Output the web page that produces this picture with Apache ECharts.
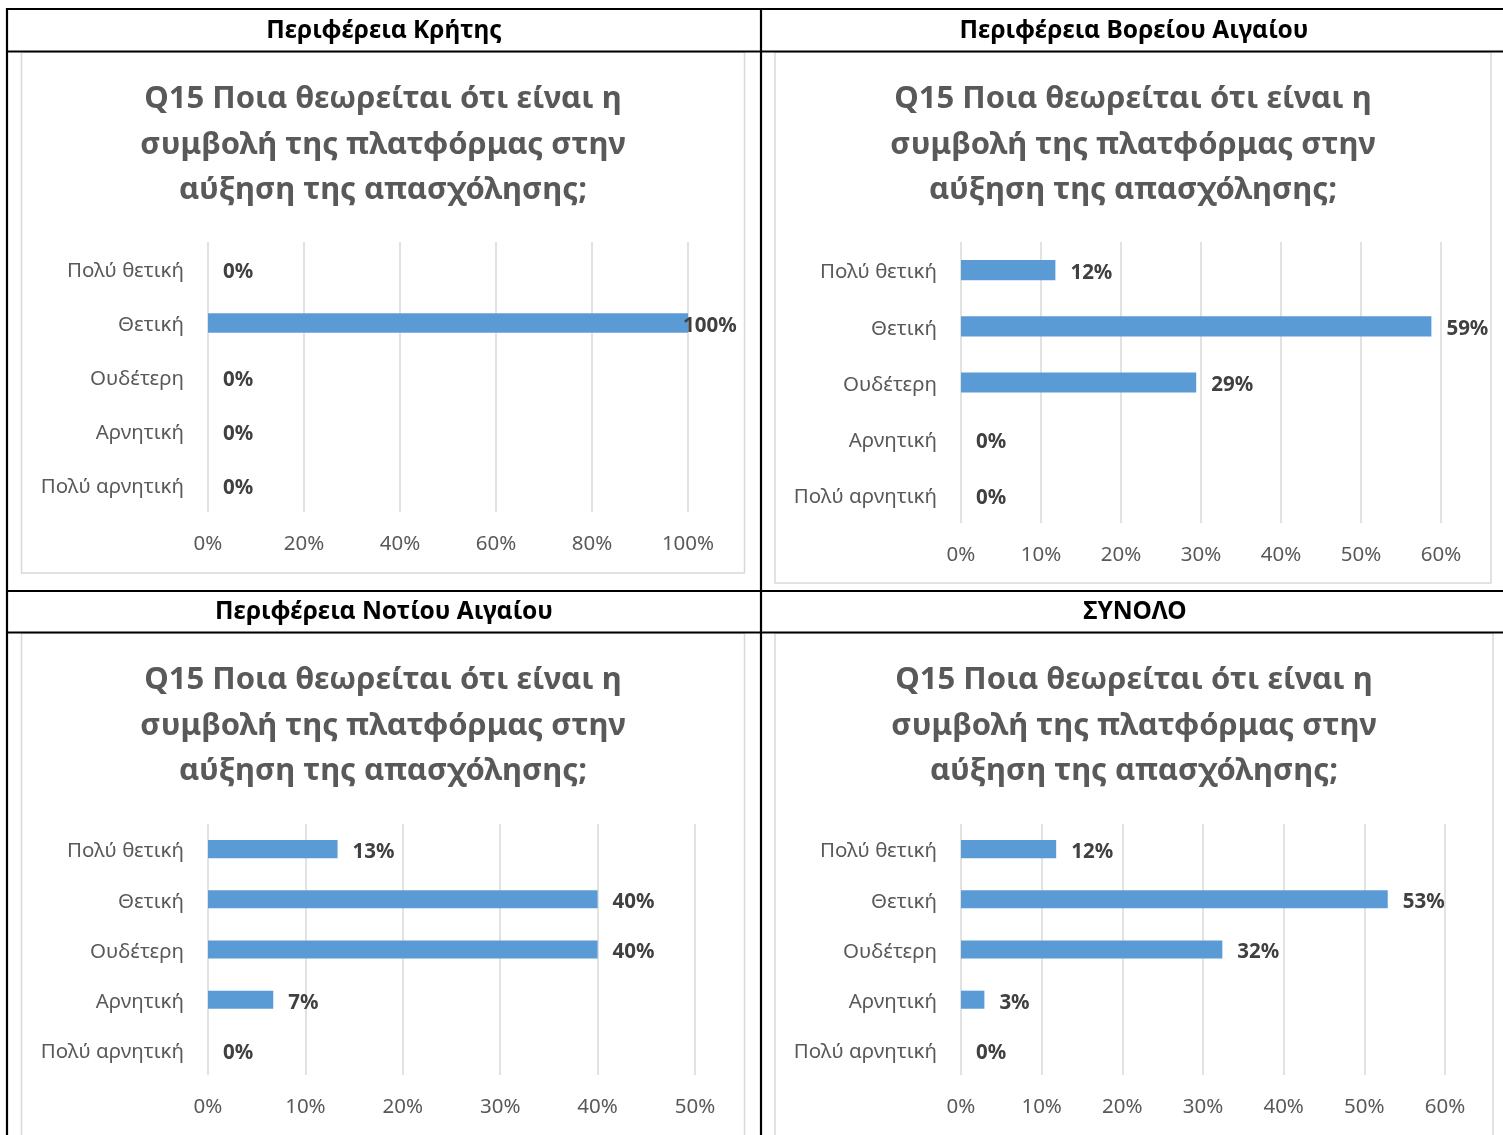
<!DOCTYPE html>
<html>
<head>
<meta charset="utf-8">
<script src="https://cdn.jsdelivr.net/npm/echarts@6/dist/echarts.min.js"></script>
<style>
  html, body { margin: 0; padding: 0; background: #fff; }
  #chart { width: 1503px; height: 1135px; }
</style>
</head>
<body>
<div id="chart"></div>
<script>
// categories (top to bottom)
const categories = ["Πολύ θετική", "Θετική", "Ουδέτερη", "Αρνητική", "Πολύ αρνητική"];

// percentages per region
const kritis = [0, 100, 0, 0, 0];
const voreiouAigaiou = [11.8, 58.8, 29.4, 0, 0];
const notiouAigaiou = [13.3, 40, 40, 6.7, 0];
const synolo = [11.8, 52.9, 32.4, 2.9, 0];

const headers = ["Περιφέρεια Κρήτης", "Περιφέρεια Βορείου Αιγαίου", "Περιφέρεια Νοτίου Αιγαίου", "ΣΥΝΟΛΟ"];
const chartTitle = "Q15 Ποια θεωρείται ότι είναι η\nσυμβολή της πλατφόρμας στην\nαύξηση της απασχόλησης;";

// x axis ticks: max and step
const axisMax = [100, 60, 50, 60];
const axisStep = [20, 10, 10, 10];

const seriesData = [kritis, voreiouAigaiou, notiouAigaiou, synolo];

// layout of the 4 panels
const grids = [
  { left: 208, top: 242, width: 480, height: 270 },
  { left: 961, top: 242, width: 480, height: 281 },
  { left: 208, top: 824, width: 487, height: 251 },
  { left: 961, top: 824, width: 484, height: 251 }
];
const headerPos = [[384, 31], [1134, 31], [384, 612], [1135, 612]];
const titlePos = [[383, 145], [1133, 145], [383, 726], [1134, 726]];

const FONT = "'Noto Sans', 'DejaVu Sans', sans-serif";
const grey = "#595959";

const chart = echarts.init(document.getElementById("chart"));

var xAxes = [], yAxes = [], series = [];
for (let i = 0; i < 4; i++) {
  xAxes.push({
    type: "value",
    gridIndex: i,
    min: 0,
    max: axisMax[i],
    interval: axisStep[i],
    axisLine: { show: false },
    axisTick: { show: false },
    axisLabel: {
      formatter: "{value}%",
      color: grey,
      fontFamily: FONT,
      fontSize: 20.5,
      margin: 22
    },
    splitLine: { lineStyle: { color: "#d9d9d9", width: 1.5 } }
  });
  yAxes.push({
    type: "category",
    gridIndex: i,
    inverse: true,
    data: categories,
    axisLine: { show: false },
    axisTick: { show: false },
    axisLabel: {
      margin: 24,
      formatter: "{c|{value}}",
      rich: {
        c: {
          color: grey,
          fontFamily: FONT,
          fontSize: 20.5,
          padding: [5, 0, 0, 0]
        }
      }
    }
  });
  series.push({
    type: "bar",
    xAxisIndex: i,
    yAxisIndex: i,
    barWidth: "36%",
    itemStyle: { color: "#5b9bd5" },
    label: {
      show: true,
      position: "right",
      distance: 15,
      offset: [0, 3],
      color: "#404040",
      fontFamily: FONT,
      fontWeight: "bold",
      fontSize: 20.5,
      formatter: function (p) { return Math.round(p.value) + "%"; }
    },
    data: seriesData[i].map(function (v) {
      // the full-width bar has its label pulled back inside the plot
      if (v >= axisMax[i]) return { value: v, label: { distance: -5 } };
      return v;
    })
  });
}

var graphics = [];
// chart frames
[[21.5, 52, 723, 521], [775, 52, 716, 531], [21.5, 633, 723, 520], [775, 633, 718, 520]].forEach(function (r) {
  graphics.push({
    type: "rect",
    shape: { x: r[0], y: r[1], width: r[2], height: r[3] },
    style: { fill: "none", stroke: "#d9d9d9", lineWidth: 1.5 }
  });
});
// table lines
[[7, 9, 1503, 9], [7, 51.5, 1503, 51.5], [7, 591, 1503, 591], [7, 632.5, 1503, 632.5],
 [7, 8, 7, 1135], [761, 8, 761, 1135]].forEach(function (l) {
  graphics.push({
    type: "line",
    shape: { x1: l[0], y1: l[1], x2: l[2], y2: l[3] },
    style: { stroke: "#000", lineWidth: 2.2 }
  });
});
// headers and chart titles
for (let i = 0; i < 4; i++) {
  graphics.push({
    type: "text",
    x: headerPos[i][0],
    y: headerPos[i][1],
    style: {
      text: headers[i],
      align: "center",
      verticalAlign: "middle",
      fontFamily: FONT,
      fontWeight: "bold",
      fontSize: 24.5,
      fill: "#000"
    }
  });
  graphics.push({
    type: "text",
    x: titlePos[i][0],
    y: titlePos[i][1],
    style: {
      text: chartTitle,
      align: "center",
      verticalAlign: "middle",
      fontFamily: FONT,
      fontWeight: "bold",
      fontSize: 31,
      lineHeight: 45.5,
      fill: grey
    }
  });
}

var option = {
  animation: false,
  grid: grids,
  xAxis: xAxes,
  yAxis: yAxes,
  series: series,
  graphic: graphics
};
chart.setOption(option);
</script>
</body>
</html>
